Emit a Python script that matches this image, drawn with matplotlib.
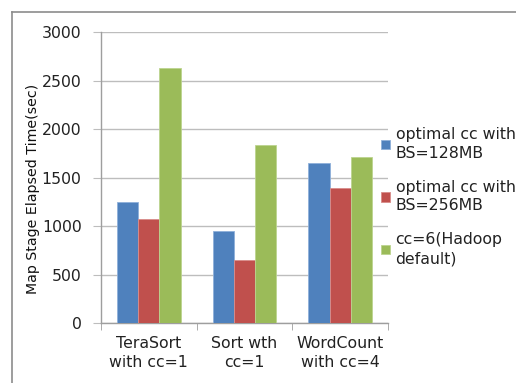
import matplotlib
matplotlib.use("Agg")
import matplotlib.pyplot as plt
import numpy as np
from matplotlib.lines import Line2D

plt.rcParams['font.family'] = ['DejaVu Sans']

categories = ["TeraSort\nwith cc=1", "Sort wth\ncc=1", "WordCount\nwith cc=4"]
series_names = ["optimal cc with\nBS=128MB", "optimal cc with\nBS=256MB", "cc=6(Hadoop\ndefault)"]
bs128 = [1255, 950, 1650]
bs256 = [1075, 655, 1400]
default_cc6 = [2630, 1840, 1715]
yticks = [0, 500, 1000, 1500, 2000, 2500, 3000]

colors = ["#4F81BD", "#C0504D", "#9BBB59"]
edges = ["#8FB0DA", "#D98C8A", "#BCD48F"]

W, H = 516, 383
FS = 11.3
fig = plt.figure(figsize=(W / 100, H / 100), dpi=100)
ax = fig.add_axes([101 / W, 1 - 323.3 / H, (388 - 101) / W, (323.3 - 32.3) / H])

x = np.arange(len(categories))
bw = 1 / 4.5
series = [bs128, bs256, default_cc6]
for i, (vals, c, ec, name) in enumerate(zip(series, colors, edges, series_names)):
    ax.bar(x + (i - 1) * bw, vals, width=bw, color=c, edgecolor=ec, linewidth=0.6,
           label=name, zorder=3)

ax.set_xlim(-0.5, len(categories) - 0.5)
ax.set_ylim(0, 3000)
ax.set_yticks(yticks)
ax.set_yticklabels([str(v) for v in yticks], fontsize=FS, color="#222222")
ax.yaxis.grid(True, color="#BDBDBD", linewidth=1.0, zorder=0)
ax.set_axisbelow(True)

ax.set_xticks(x)
ax.set_xticklabels(categories, fontsize=FS, color="#222222")
for t in ax.get_xticklabels():
    t.set_linespacing(1.35)
ax.set_xticks(np.arange(-0.5, len(categories)), minor=True)
ax.tick_params(axis="x", which="major", length=0, pad=9)
ax.tick_params(axis="x", which="minor", length=5, color="#9E9E9E", direction="out")
ax.tick_params(axis="y", length=6, color="#BDBDBD", pad=8)

for s in ["top", "right"]:
    ax.spines[s].set_visible(False)
for s in ["left", "bottom"]:
    ax.spines[s].set_color("#9E9E9E")
    ax.spines[s].set_linewidth(1.0)

fig.text(33 / W, 1 - 189 / H, "Map Stage Elapsed Time(sec)", rotation=90,
         ha="center", va="center", fontsize=10.2, color="#111111")

handles, labels = ax.get_legend_handles_labels()
leg = fig.legend(handles, labels, loc="upper left", bbox_to_anchor=(381 / W, 1 - 127 / H),
                 frameon=False, fontsize=FS, handlelength=0.55, handleheight=0.55,
                 handletextpad=0.38, labelspacing=1.22, borderaxespad=0, borderpad=0)
for t in leg.get_texts():
    t.set_color("#222222")
    t.set_linespacing(1.3)

# chart-area border
fig.add_artist(Line2D([11.5 / W, 11.5 / W], [0, 1 - 11.5 / H], color="#8C8C8C", linewidth=1.2))
fig.add_artist(Line2D([11.5 / W, 1], [1 - 11.5 / H, 1 - 11.5 / H], color="#8C8C8C", linewidth=1.2))

fig.savefig("out.png", dpi=100)
